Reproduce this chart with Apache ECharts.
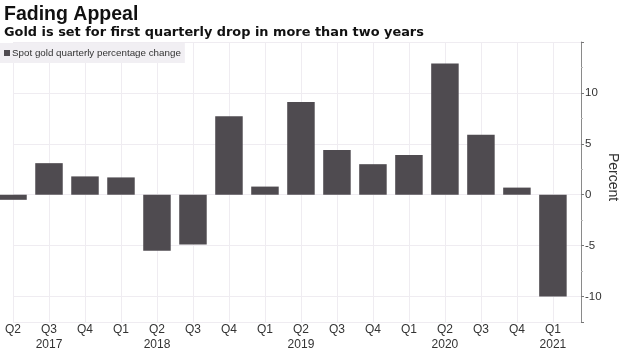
<!DOCTYPE html>
<html>
<head>
<meta charset="utf-8">
<script src="https://cdn.jsdelivr.net/npm/echarts@6/dist/echarts.min.js"></script>
<style>
  html, body { margin: 0; padding: 0; background: #fff; }
  #chart { width: 620px; height: 351px; }
</style>
</head>
<body>
<div id="chart"></div>
<script>
// quarters shown on the x axis, with the year printed under some of them
const quarters = ['Q2', 'Q3', 'Q4', 'Q1', 'Q2', 'Q3', 'Q4', 'Q1', 'Q2', 'Q3', 'Q4', 'Q1', 'Q2', 'Q3', 'Q4', 'Q1']
const years = ['', '2017', '', '', '2018', '', '', '', '2019', '', '', '', '2020', '', '', '2021']
// spot gold quarterly percentage change
const changes = [-0.5, 3.1, 1.8, 1.7, -5.5, -4.9, 7.7, 0.8, 9.1, 4.4, 3.0, 3.9, 12.9, 5.9, 0.7, -10.0]
const seriesName = 'Spot gold quarterly percentage change'

const chart = echarts.init(document.getElementById('chart'))

const labelFont = 'Liberation Sans, sans-serif'

const option = {
  animation: false,
  title: [
    {
      text: 'Fading Appeal',
      left: -1,
      top: 0,
      textStyle: { fontFamily: 'Liberation Sans, sans-serif', fontSize: 19.5, fontWeight: 'bold', color: '#111' }
    },
    {
      text: 'Gold is set for first quarterly drop in more than two years',
      left: -1,
      top: 21,
      textStyle: { fontFamily: 'DejaVu Sans, sans-serif', fontSize: 12.9, fontWeight: 'bold', color: '#111' }
    }
  ],
  legend: {
    left: 0,
    top: 43,
    padding: [5, 4, 5, 4],
    backgroundColor: '#f1eff3',
    icon: 'rect',
    itemWidth: 6,
    itemHeight: 6,
    itemGap: 4,
    textStyle: { fontFamily: labelFont, fontSize: 9.8, color: '#333', padding: [0, 0, 0, -3] },
    data: [seriesName]
  },
  grid: { left: 13, right: 39, top: 42, bottom: 29, outerBoundsMode: 'none', containLabel: false },
  xAxis: {
    type: 'value',
    min: 0,
    max: 15.78,
    interval: 1,
    axisLine: { show: false, onZero: false },
    axisTick: { show: false },
    splitLine: { show: true, lineStyle: { color: '#efecf1', width: 1 } },
    axisLabel: {
      margin: 0,
      showMaxLabel: false,
      fontFamily: labelFont,
      fontSize: 12,
      lineHeight: 15,
      color: '#333',
      formatter: (v) => {
        const i = Math.round(v)
        if (Math.abs(v - i) > 0.01 || i >= quarters.length) return ''
        return years[i] ? quarters[i] + '\n' + years[i] : quarters[i]
      }
    }
  },
  yAxis: {
    type: 'value',
    position: 'right',
    min: -12.5,
    max: 15,
    splitNumber: 5,
    name: 'Percent',
    nameLocation: 'middle',
    nameRotate: -90,
    nameGap: 25,
    nameMoveOverlap: false,
    nameTextStyle: { fontFamily: labelFont, fontSize: 14, color: '#333', padding: [0, 10, 0, 0] },
    axisLine: { show: true, onZero: false, lineStyle: { color: '#8a8a8a' } },
    axisTick: { show: true, length: 3, lineStyle: { color: '#777' } },
    minorTick: { show: true, splitNumber: 2, length: 2, lineStyle: { color: '#bbb' } },
    splitLine: { show: true, lineStyle: { color: '#efecf1', width: 1 } },
    axisLabel: {
      margin: 4,
      showMinLabel: false,
      showMaxLabel: false,
      fontFamily: labelFont,
      fontSize: 11.5,
      color: '#333'
    }
  },
  series: [
    {
      name: seriesName,
      type: 'bar',
      clip: false,
      barWidth: 27.5,
      itemStyle: { color: '#4f4b50' },
      data: changes.map((v, i) => [i, v])
    }
  ]
}

chart.setOption(option)
</script>
</body>
</html>
